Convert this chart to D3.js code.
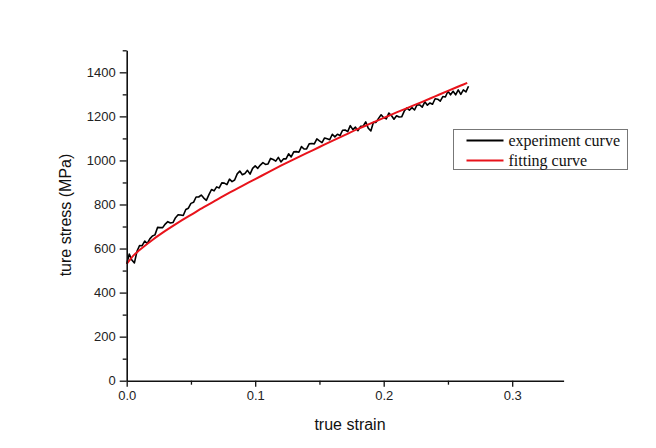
<!DOCTYPE html>
<html>
<head>
<meta charset="utf-8">
<script src="https://cdn.jsdelivr.net/npm/d3@7"></script>
<style>
  html, body { margin: 0; padding: 0; background: #ffffff; }
  svg { display: block; }
  .tick text { font-family: "Liberation Sans", Arial, sans-serif; font-size: 13px; fill: #222; }
</style>
</head>
<body>
<svg id="chart" width="656" height="448"></svg>
<script>
// Measured true stress–strain data (strain, MPa)
const expStrain = [
  0.000, 0.002, 0.004, 0.006, 0.008, 0.010, 0.012, 0.014, 0.016, 0.018,
  0.020, 0.022, 0.024, 0.026, 0.028, 0.030, 0.032, 0.034, 0.036, 0.038,
  0.040, 0.042, 0.044, 0.046, 0.048, 0.050, 0.052, 0.054, 0.056, 0.058,
  0.060, 0.062, 0.064, 0.066, 0.068, 0.070, 0.072, 0.074, 0.076, 0.078,
  0.080, 0.082, 0.084, 0.086, 0.088, 0.090, 0.092, 0.094, 0.096, 0.098,
  0.100, 0.102, 0.104, 0.106, 0.108, 0.110, 0.112, 0.114, 0.116, 0.118,
  0.120, 0.122, 0.124, 0.126, 0.128, 0.130, 0.132, 0.134, 0.136, 0.138,
  0.140, 0.142, 0.144, 0.146, 0.148, 0.150, 0.152, 0.154, 0.156, 0.158,
  0.160, 0.162, 0.164, 0.166, 0.168, 0.170, 0.172, 0.174, 0.176, 0.178,
  0.180, 0.182, 0.184, 0.186, 0.188, 0.190, 0.192, 0.194, 0.196, 0.198,
  0.200, 0.202, 0.204, 0.206, 0.208, 0.210, 0.212, 0.214, 0.216, 0.218,
  0.220, 0.222, 0.224, 0.226, 0.228, 0.230, 0.232, 0.234, 0.236, 0.238,
  0.240, 0.242, 0.244, 0.246, 0.248, 0.250, 0.252, 0.254, 0.256, 0.258,
  0.260, 0.262, 0.264, 0.266
];
const expStress = [
   530,  575,  548,  535,  587,  614,  613,  634,  623,  644,
   657,  662,  696,  695,  695,  711,  722,  716,  718,  740,
   753,  752,  750,  777,  783,  805,  810,  834,  834,  843,
   829,  819,  845,  868,  862,  880,  875,  898,  897,  890,
   915,  904,  911,  939,  952,  935,  941,  955,  938,  964,
   975,  964,  979,  990,  982,  984, 1009, 1004,  997, 1014,
   993, 1007, 1007, 1030, 1016, 1039, 1040, 1037, 1063, 1052,
  1052, 1075, 1077, 1075, 1098, 1089, 1081, 1102, 1098, 1094,
  1119, 1107, 1119, 1113, 1137, 1138, 1131, 1158, 1140, 1151,
  1135, 1155, 1156, 1175, 1146, 1134, 1173, 1173, 1191, 1207,
  1194, 1189, 1215, 1204, 1187, 1203, 1197, 1198, 1224, 1238,
  1228, 1240, 1229, 1253, 1252, 1242, 1266, 1251, 1261, 1255,
  1280, 1278, 1269, 1290, 1288, 1314, 1298, 1314, 1298, 1320,
  1300, 1320, 1311, 1337
];

// Fitted hardening curve (strain, MPa)
const fitStrain = [
  0.000, 0.005, 0.010, 0.020, 0.030, 0.040, 0.050, 0.060, 0.070, 0.080,
  0.090, 0.100, 0.110, 0.120, 0.130, 0.140, 0.150, 0.160, 0.170, 0.180,
  0.190, 0.200, 0.210, 0.220, 0.230, 0.240, 0.250, 0.260, 0.265
];
const fitStress = [
   530,  567,  593,  639,  680,  718,  753,  788,  821,  854,
   885,  915,  946,  976, 1005, 1033, 1061, 1089, 1116, 1143,
  1168, 1193, 1218, 1242, 1266, 1291, 1316, 1340, 1352
];

// Axis ticks
const xMajorTicks = [0.0, 0.1, 0.2, 0.3];
const xMinorTicks = [0.05, 0.15, 0.25];
const yMajorTicks = [0, 200, 400, 600, 800, 1000, 1200, 1400];
const yMinorTicks = [100, 300, 500, 700, 900, 1100, 1300, 1500];

const legendItems = ["experiment curve", "fitting curve"];
const seriesColors = ["#000000", "#e8131b"];

const svg = d3.select("#chart");

const x = d3.scaleLinear().domain([0, 0.34]).range([126.7, 563.6]);
const y = d3.scaleLinear().domain([0, 1500]).range([380.7, 50.3]);

// Curves
const expData = expStrain.map((s, i) => [s, expStress[i]]);
const fitData = fitStrain.map((s, i) => [s, fitStress[i]]);

const lineLinear = d3.line().x(d => x(d[0])).y(d => y(d[1]));
const lineSmooth = d3.line().x(d => x(d[0])).y(d => y(d[1])).curve(d3.curveMonotoneX);

svg.append("path")
  .datum(expData)
  .attr("d", lineLinear)
  .attr("fill", "none")
  .attr("stroke", seriesColors[0])
  .attr("stroke-width", 1.6)
  .attr("stroke-linejoin", "round");

svg.append("path")
  .datum(fitData)
  .attr("d", lineSmooth)
  .attr("fill", "none")
  .attr("stroke", seriesColors[1])
  .attr("stroke-width", 2);

// Axes
function styleAxis(g) {
  g.selectAll(".domain").attr("stroke", "#111").attr("stroke-width", 1.6);
  g.selectAll(".tick line").attr("stroke", "#111").attr("stroke-width", 1.3);
}

const xAxisG = svg.append("g")
  .attr("transform", `translate(0,${y(0)})`)
  .call(d3.axisBottom(x).tickValues(xMajorTicks).tickFormat(d3.format(".1f"))
    .tickSize(6).tickSizeOuter(0).tickPadding(4));
styleAxis(xAxisG);

const xMinorG = svg.append("g")
  .attr("transform", `translate(0,${y(0)})`)
  .call(d3.axisBottom(x).tickValues(xMinorTicks).tickFormat("").tickSize(4).tickSizeOuter(0));
xMinorG.select(".domain").remove();
styleAxis(xMinorG);

const yAxisG = svg.append("g")
  .attr("transform", `translate(${x(0)},0)`)
  .call(d3.axisLeft(y).tickValues(yMajorTicks).tickFormat(d3.format("d"))
    .tickSize(7).tickSizeOuter(0).tickPadding(4));
styleAxis(yAxisG);

const yMinorG = svg.append("g")
  .attr("transform", `translate(${x(0)},0)`)
  .call(d3.axisLeft(y).tickValues(yMinorTicks).tickFormat("").tickSize(4).tickSizeOuter(0));
yMinorG.select(".domain").remove();
styleAxis(yMinorG);

// Axis titles
svg.append("text")
  .attr("x", 350)
  .attr("y", 430)
  .attr("text-anchor", "middle")
  .attr("font-family", "Liberation Sans, Arial, sans-serif")
  .attr("font-size", 16)
  .attr("fill", "#111")
  .text("true strain");

svg.append("text")
  .attr("transform", "translate(71,215) rotate(-90)")
  .attr("text-anchor", "middle")
  .attr("font-family", "Liberation Sans, Arial, sans-serif")
  .attr("font-size", 16)
  .attr("fill", "#111")
  .text("ture stress (MPa)");

// Legend
const legend = svg.append("g").attr("transform", "translate(453.5,129.5)");
legend.append("rect")
  .attr("width", 174)
  .attr("height", 40)
  .attr("fill", "#ffffff")
  .attr("stroke", "#777")
  .attr("stroke-width", 1);

legendItems.forEach((name, i) => {
  const row = legend.append("g").attr("transform", `translate(0,${11 + i * 20})`);
  row.append("line")
    .attr("x1", 13).attr("x2", 50)
    .attr("y1", 0).attr("y2", 0)
    .attr("stroke", seriesColors[i])
    .attr("stroke-width", 1.8);
  row.append("text")
    .attr("x", 55)
    .attr("y", 5)
    .attr("font-family", "Liberation Serif, Times New Roman, serif")
    .attr("font-size", 16)
    .attr("fill", "#111")
    .text(name);
});
</script>
</body>
</html>
